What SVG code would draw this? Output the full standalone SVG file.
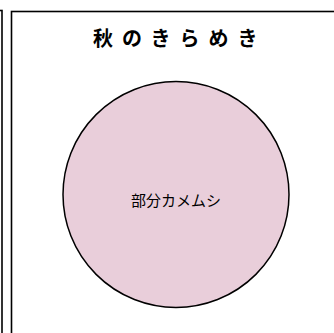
<svg xmlns="http://www.w3.org/2000/svg" width="334" height="333" viewBox="0 0 334 333">
<style>
.frame{fill:#ffffff;stroke:#000000;stroke-width:1.6}
.title{font-family:"Noto Sans CJK JP","Noto Sans CJK SC",sans-serif;font-size:20px;font-weight:600;fill:#000000}
.label{font-family:"Noto Sans CJK JP","Noto Sans CJK SC",sans-serif;font-size:15px;fill:#000000}
</style>
<rect x="0" y="0" width="334" height="333" fill="#ffffff"/>
<g id="prev-panel">
<rect class="frame" x="-400" y="10.5" width="402" height="400"/>
</g>
<g id="panel">
<rect class="frame" x="11.5" y="11.5" width="400" height="400"/>
<text class="title" x="93" y="45.5" letter-spacing="9">秋のきらめき</text>
</g>
<g id="node-1">
<circle cx="176" cy="194.5" r="113" fill="#E9CEDA" stroke="#000000" stroke-width="1.5"/>
<text class="label" x="176" y="206" text-anchor="middle">部分カメムシ</text>
</g>
<g id="connectors"/>
</svg>
